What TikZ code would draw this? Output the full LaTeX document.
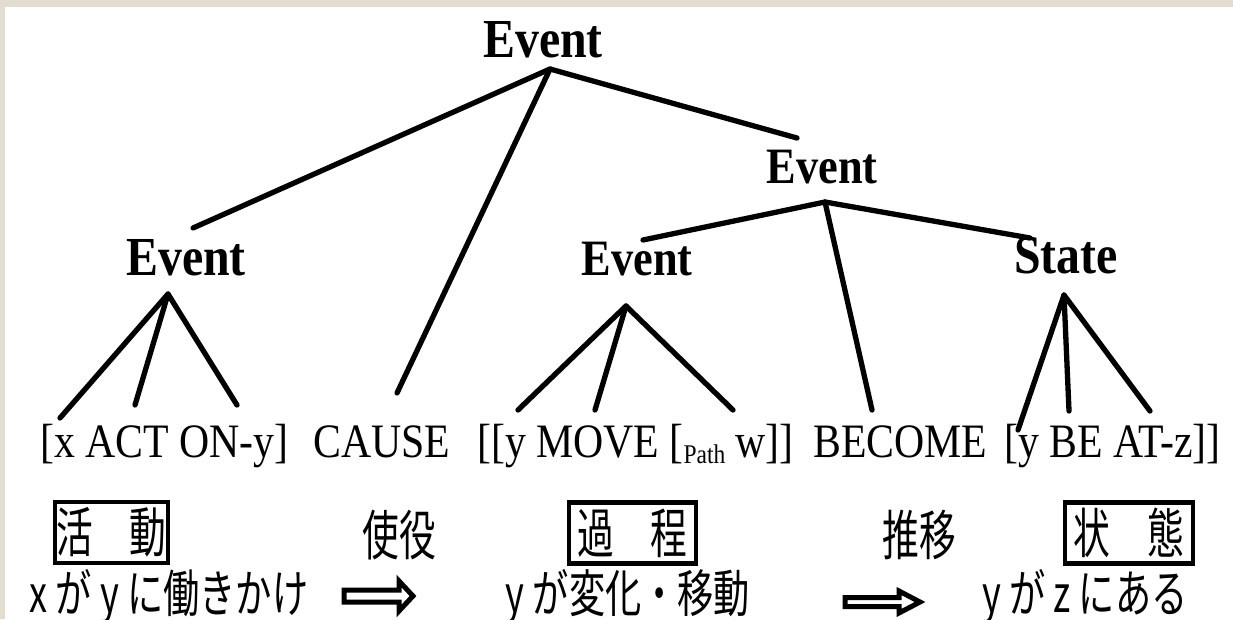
\documentclass[tikz,border=0pt]{standalone}
\usepackage{fontspec}
\setmainfont[FakeStretch=0.87]{Liberation Serif}
\newfontfamily\jp[FakeStretch=0.68]{Noto Sans CJK JP}
\newfontfamily\jpb[FakeStretch=0.71]{Noto Sans CJK JP}
\definecolor{beige}{RGB}{227,220,208}
\begin{document}
\begin{tikzpicture}[x=1pt,y=-1pt,
  branch/.style={line width=5.3pt, line cap=round, line join=round},
  lab/.style={font=\bfseries\fontsize{55}{55}\selectfont, inner sep=0pt, anchor=base},
  labsm/.style={font=\bfseries\fontsize{51}{51}\selectfont, inner sep=0pt, anchor=base},
  form/.style={font=\fontsize{48}{48}\selectfont, inner sep=0pt, anchor=base west},
  jpt/.style={font=\jp\fontsize{54}{54}\selectfont, inner sep=0pt},
  jlow/.style={font=\jpb\fontsize{51}{51}\selectfont, inner sep=0pt},
  jbox/.style={jpt, draw, line width=4.5pt, minimum height=61pt},
  fat/.style={draw, line width=5pt, fill=white, line join=miter}]
\useasboundingbox (0,0) rectangle (1233,619);
\fill[beige] (0,0) rectangle (1233,619);
\fill[white] (5,7) rectangle (1233,619);

% tree labels
\node[lab] (top) at (543,57) {Event};
\node[lab] (evL) at (186,275) {Event};
\node[labsm] (evR) at (822,183) {Event};
\node[labsm] (evM) at (637,275) {Event};
\node[lab] (st) at (1066,273) {State};

% formula
\node[form] (f1) at (40,457) {[x ACT ON-y]};
\node[form] (f2) at (313,457) {CAUSE};
\node[form] (f3) at (477,457) {[[y MOVE [\raisebox{-6pt}{\fontsize{27}{27}\selectfont Path} w]]};
\node[form] (f4) at (813,457) {BECOME};
\node[form] (f5) at (1004,457) {[y BE AT-z]]};

% joints and branch ends
\coordinate (j0) at (550,69);
\coordinate (j1) at (168,294);
\coordinate (j2) at (825,202);
\coordinate (j3) at (626,306);
\coordinate (j4) at (1064,295);
\coordinate (a1) at (193,228);
\coordinate (a2) at (397,393);
\coordinate (a3) at (797,138);
\coordinate (b1) at (60,418);
\coordinate (b2) at (135,405);
\coordinate (b3) at (237,405);
\coordinate (c1) at (643,240);
\coordinate (c2) at (872,410);
\coordinate (c3) at (1030,238);
\coordinate (d1) at (518,410);
\coordinate (d2) at (595,410);
\coordinate (d3) at (733,410);
\coordinate (g1) at (1018,430);
\coordinate (g2) at (1069,411);
\coordinate (g3) at (1150,411);

\draw[branch] (a1) -- (j0) -- (a3);
\draw[branch] (j0) -- (a2);
\draw[branch] (b1) -- (j1) -- (b3);
\draw[branch] (j1) -- (b2);
\draw[branch] (c1) -- (j2) -- (c3);
\draw[branch] (j2) -- (c2);
\draw[branch] (d1) -- (j3) -- (d3);
\draw[branch] (j3) -- (d2);
\draw[branch] (g1) -- (j4) -- (g3);
\draw[branch] (j4) -- (g2);

% Japanese row 1
\node[jbox, minimum width=113pt] (k1) at (111.5,532.5) {活　動};
\node[jpt] (k2) at (399,535) {使役};
\node[jbox, minimum width=127pt] (k3) at (632.5,533) {過　程};
\node[jpt] (k4) at (919,535) {推移};
\node[jbox, minimum width=128pt] (k5) at (1129,533) {状　態};

% Japanese row 2
\node[jlow] (m1) at (169,597) {x が y に働きかけ};
\node[jlow] (m2) at (628,597) {y が変化・移動};
\node[jlow] (m3) at (1085,597) {y が z にある};

% hollow arrows
\draw[fat] (344,590) -- (399,590) -- (399,581) -- (413,596) -- (399,611) -- (399,602) -- (344,602) -- cycle;
\draw[fat] (845,597.5) -- (899,597.5) -- (899,591) -- (920,602) -- (899,613) -- (899,606.5) -- (845,606.5) -- cycle;
\end{tikzpicture}
\end{document}
